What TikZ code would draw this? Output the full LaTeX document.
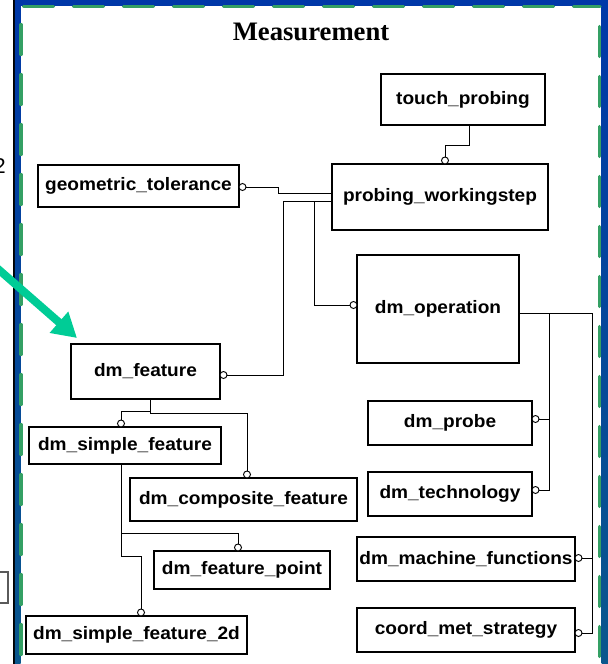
\documentclass[tikz,border=0pt]{standalone}
\usepackage{fontspec}
\setmainfont{Liberation Sans}
\newfontfamily\labfont{Liberation Sans}[FakeStretch=1.06]
\newfontfamily\ttlfont{Liberation Serif}
\usetikzlibrary{calc,arrows.meta}
\definecolor{frameblue}{RGB}{0,56,168}
\definecolor{framebot}{RGB}{10,88,140}
\definecolor{dashgreen}{RGB}{52,160,100}
\definecolor{arrowteal}{RGB}{0,204,150}
\definecolor{fraggray}{RGB}{90,90,90}
\newcommand\umlbox[6]{\node[entity, minimum width={(#4-#2)*0.75pt}, minimum height={(#5-#3)*0.75pt}] (#1) at ({(#2+#4)/2},{(#3+#5)/2}) {#6};}
\begin{document}
\begin{tikzpicture}[x=0.75pt,y=-0.75pt,
  entity/.style={draw=black, line width=0.8pt, fill=white, inner sep=0pt, outer sep=0pt,
    font=\labfont\bfseries\fontsize{13.5}{15}\selectfont},
  ball/.style={circle, draw=black, fill=white, line width=0.7pt, inner sep=0pt, minimum size=5.25pt, outer sep=0pt},
  link/.style={draw=black, line width=0.75pt},
  gdash/.style={draw=dashgreen, line width=2.3pt, line cap=round, dash pattern=on 22.5pt off 15pt}]
\useasboundingbox (0,0) rectangle (607,664);
\fill[white] (0,0) rectangle (607,664);

% outside fragments
\node[anchor=base east, inner sep=0pt, font=\fontsize{16}{19}\selectfont] (frag2) at (6,173) {2};
\node[draw=fraggray, line width=0.8pt, minimum width={28*0.75pt}, minimum height={31*0.75pt}, inner sep=0pt] (fragbox) at (-6,587.5) {};

% frame
\fill[black] (12.8,0) rectangle (14.8,680);
\shade[top color=frameblue, bottom color=framebot] (14.8,0) rectangle (20.7,680);
\shade[top color=frameblue, bottom color=framebot] (601.5,0) rectangle (610,680);
\fill[frameblue] (14.8,-2) rectangle (610,6);
\draw[gdash] (23.5,6.5) -- (600,6.5);
\draw[gdash] (21,24.5) -- (21,680);
\draw[gdash] (599.5,26.5) -- (599.5,680);

\node[anchor=base, inner sep=0pt, font=\ttlfont\bfseries\fontsize{20}{24}\selectfont] (title) at (311,40) {Measurement};

% boxes
\umlbox{tp}{381}{74}{545}{125}{touch\_probing}
\umlbox{pw}{332}{164}{548}{230}{probing\_workingstep}
\umlbox{gt}{38}{165}{239}{207}{geometric\_tolerance}
\umlbox{op}{357}{255}{519}{363}{dm\_operation}
\umlbox{fe}{71}{344}{220}{399}{dm\_feature}
\umlbox{sf}{29}{427}{221}{464}{dm\_simple\_feature}
\umlbox{cf}{130}{478}{357}{521}{dm\_composite\_feature}
\umlbox{fp}{154}{551}{330}{589}{dm\_feature\_point}
\umlbox{s2}{26}{616}{247}{654}{dm\_simple\_feature\_2d}
\umlbox{pr}{368}{401}{532}{445}{dm\_probe}
\umlbox{te}{368}{472}{532}{516}{dm\_technology}
\umlbox{mf}{357}{537}{575}{581}{dm\_machine\_functions}
\umlbox{cm}{357}{608}{575}{652}{coord\_met\_strategy}

% circles
\node[ball] (k1) at ($(pw.north)+(5,-3.5)$) {};
\node[ball] (k2) at ($(gt.east)+(3.5,1)$) {};
\node[ball] (k3) at ($(fe.east)+(3.5,3.5)$) {};
\node[ball] (k4) at ($(op.west)+(-3.5,-4)$) {};
\node[ball] (k5) at ($(pr.east)+(3.5,-4)$) {};
\node[ball] (k6) at ($(te.east)+(3.5,-4)$) {};
\node[ball] (k7) at ($(mf.east)+(3.5,-1)$) {};
\node[ball] (k8) at ($(cm.east)+(3.5,3)$) {};
\node[ball] (k9) at ($(sf.north)+(-4,-3.5)$) {};
\node[ball] (k10) at ($(cf.north)+(3.5,-3.5)$) {};
\node[ball] (k11) at ($(fp.north)+(-4,-3.5)$) {};
\node[ball] (k12) at ($(s2.north)+(4.5,-3.5)$) {};

% connectors
\draw[link] ($(tp.south)+(6,0)$) -- ++(0,20) -| (k1);
\draw[link] (k2.east) -- ++(32,0) -- ++(0,6) -- ($(pw.west)+(0,-4)$);
\draw[link] ($(pw.west)+(0,4)$) -- ++(-49,0) |- (k3);
\draw[link] ($(pw.west)+(-18,4)$) |- (k4);
\draw[link] ($(op.east)+(0,4)$) -- ++(73,0) |- (k8);
\draw[link] ($(op.east)+(30,4)$) |- (k6);
\draw[link] (k5.east) -| ($(op.east)+(30,4)$);
\draw[link] (k7.east) -| ($(op.east)+(73,4)$);
\draw[link] ($(fe.south)+(4.5,0)$) -- ++(0,12) -| (k9);
\draw[link] ($(fe.south)+(4.5,0)$) -- ++(0,14) -| (k10);
\draw[link] ($(sf.south)+(-4,0)$) -- ++(0,69) -| (k11);
\draw[link] ($(sf.south)+(-4,0)$) -- ++(0,92) -| (k12);

% teal arrow
\coordinate (atail) at (-10,262);
\coordinate (ahead) at (77,338);
\draw[arrowteal, line width=6pt, -{Triangle[length=18pt, width=20pt]}] (atail) -- (ahead);
\end{tikzpicture}
\end{document}
